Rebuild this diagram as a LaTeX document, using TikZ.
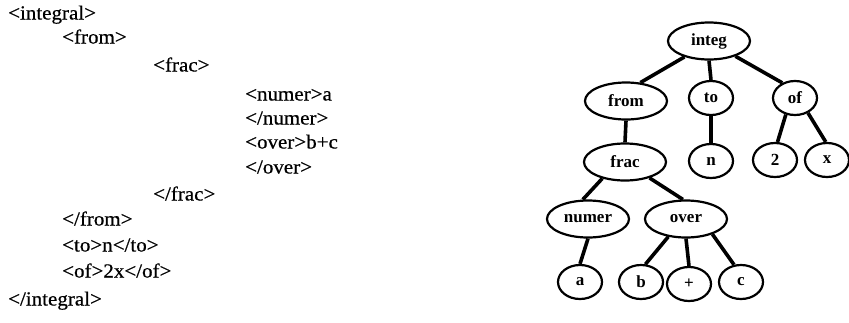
\documentclass[tikz,border=0pt]{standalone}
\usepackage{fontspec}
\setmainfont{Liberation Serif}
\newfontfamily\codefont{Liberation Serif}[FakeBold=0.6,FakeStretch=1.05]
\usetikzlibrary{shapes.geometric}
\begin{document}
\begin{tikzpicture}[x=1pt,y=-1pt,
  code/.style={anchor=west,inner sep=0pt,font=\codefont\fontsize{20}{20}\selectfont,text height=13pt,text depth=4pt},
  tn/.style={ellipse,draw,line width=2.2pt,inner sep=0pt,font=\fontsize{17}{17}\selectfont\bfseries},
  big/.style={tn,minimum width=82pt,minimum height=37pt},
  small/.style={tn,minimum width=44pt,minimum height=34pt},
  edge/.style={line width=3.6pt}]
\useasboundingbox (0,0) rectangle (849,322);
% XML text
\node[code] (l1) at (8,15) {<integral>};
\node[code] (l2) at (62,39) {<from>};
\node[code] (l3) at (153,67) {<frac>};
\node[code] (l4) at (245,96) {<numer>a};
\node[code] (l5) at (245,120) {</numer>};
\node[code] (l6) at (245,144) {<over>b+c};
\node[code] (l7) at (245,169) {</over>};
\node[code] (l8) at (153,196) {</frac>};
\node[code] (l9) at (62,221) {</from>};
\node[code] (l10) at (62,247) {<to>n</to>};
\node[code] (l11) at (62,273) {<of>2x</of>};
\node[code] (l12) at (8,301) {</integral>};
% tree
\node[big] (integ) at (709,41) {integ};
\node[big] (from) at (626,101) {from};
\node[small] (to) at (711,98) {to};
\node[small] (of) at (795,98) {of};
\node[big] (frac) at (625,162) {frac};
\node[small] (n) at (711,161) {n};
\node[small] (two) at (775,160) {2};
\node[small] (x) at (827,160) {x};
\node[big] (numer) at (588,219) {numer};
\node[big] (over) at (686,219) {over};
\node[small] (a) at (580,282) {a};
\node[small] (b) at (641,282) {b};
\node[small] (plus) at (689,284) {+};
\node[small] (c) at (741,282) {c};
\draw[edge] (integ.213) -- (from.52);
\draw[edge] (integ.south) -- (to.north);
\draw[edge] (integ.330) -- (of.130);
\draw[edge] (from.south) -- (frac.north);
\draw[edge] (to.south) -- (n.north);
\draw[edge] (of.241) -- (two.82);
\draw[edge] (of.311) -- (x.94);
\draw[edge] (frac.216) -- (numer.105);
\draw[edge] (frac.327) -- (over.99);
\draw[edge] (numer.south) -- (a.north);
\draw[edge] (over.225) -- (b.76);
\draw[edge] (over.south) -- (plus.north);
\draw[edge] (over.330) -- (c.112);
\end{tikzpicture}
\end{document}
